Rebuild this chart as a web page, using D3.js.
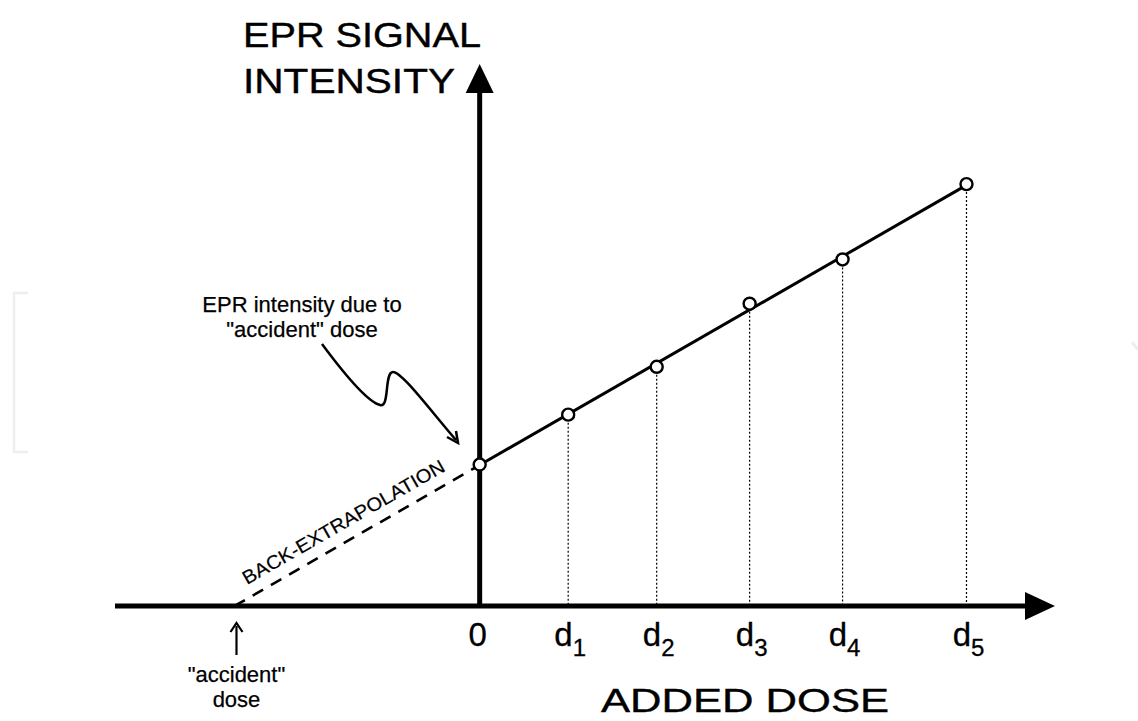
<!DOCTYPE html>
<html><head><meta charset="utf-8">
<script src="https://cdn.jsdelivr.net/npm/d3@7"></script>
<style>body{margin:0;background:#fff}svg{display:block}text{font-family:"Liberation Sans",Arial,sans-serif;fill:#000}</style>
</head><body>
<script>
// ---- data ----
const doseLabels = ["0", "d", "d", "d", "d", "d"];
const doseSubs = ["", "1", "2", "3", "4", "5"];
const doses = [0, 1, 2, 3.05, 4.1, 5.5];
const intensities = [2.78, 3.76, 4.70, 5.94, 6.81, 8.29];
const accidentDose = -2.77;
const fitIntercept = 2.77;
const fitSlope = 1.0;
const xDomain = [-4.12, 6.5];
const yDomain = [0, 10.65];

const W = 1138, H = 721;
const svg = d3.select("body").append("svg").attr("width", W).attr("height", H);

const x = d3.scaleLinear().domain(xDomain).range([115, 1055]);
const y = d3.scaleLinear().domain(yDomain).range([606, 64]);

// faint watermark frame fragments
svg.append("path").attr("d", "M28,293 L14,293 L14,452 L28,452")
  .attr("fill", "none").attr("stroke", "#eeeeee").attr("stroke-width", 2.5);
svg.append("path").attr("d", "M1132,342 L1138,350")
  .attr("fill", "none").attr("stroke", "#eeeeee").attr("stroke-width", 3);

// dotted verticals
svg.selectAll("line.drop").data(doses.slice(1)).enter().append("line")
  .attr("x1", d => x(d)).attr("x2", d => x(d))
  .attr("y1", (d, i) => y(intensities[i + 1])).attr("y2", y(0))
  .attr("stroke", "#000").attr("stroke-width", 1.2).attr("stroke-dasharray", "2,2");

// back extrapolation dashed
svg.append("line")
  .attr("x1", x(accidentDose)).attr("y1", y(0))
  .attr("x2", x(0)).attr("y2", y(fitIntercept))
  .attr("stroke", "#000").attr("stroke-width", 2.6).attr("stroke-dasharray", "12,9");

// fit line
const dMax = doses[doses.length - 1];
svg.append("line")
  .attr("x1", x(0)).attr("y1", y(fitIntercept))
  .attr("x2", x(dMax)).attr("y2", y(fitIntercept + fitSlope * dMax))
  .attr("stroke", "#000").attr("stroke-width", 3);

// axes
const axW = 5;
svg.append("line").attr("x1", x(xDomain[0])).attr("x2", 1028).attr("y1", y(0)).attr("y2", y(0))
  .attr("stroke", "#000").attr("stroke-width", axW);
svg.append("path").attr("d", `M${x(xDomain[1])},${y(0)} L1025,${y(0) - 14} L1025,${y(0) + 14} Z`).attr("fill", "#000");
svg.append("line").attr("x1", x(0)).attr("x2", x(0)).attr("y1", y(0) + 2).attr("y2", 90)
  .attr("stroke", "#000").attr("stroke-width", axW);
svg.append("path").attr("d", `M${x(0)},${y(yDomain[1])} L${x(0) - 14},93 L${x(0) + 14},93 Z`).attr("fill", "#000");

// points
svg.selectAll("circle.pt").data(doses).enter().append("circle")
  .attr("cx", d => x(d)).attr("cy", (d, i) => y(intensities[i]))
  .attr("r", 6).attr("fill", "#fff").attr("stroke", "#000").attr("stroke-width", 2.4);

// tick labels
doses.forEach((d, i) => {
  const t = svg.append("text").attr("x", x(d) + (i ? 2 : -2)).attr("y", 646)
    .attr("text-anchor", "middle").attr("font-size", 33)
    .attr("stroke", "#000").attr("stroke-width", 0.3);
  t.append("tspan").text(doseLabels[i]);
  if (doseSubs[i]) t.append("tspan").attr("font-size", 24).attr("dy", 10).text(doseSubs[i]);
});

// titles
function stretched(txt, xx, yy, size, len) {
  svg.append("text").attr("x", xx).attr("y", yy).attr("font-size", size)
    .attr("textLength", len).attr("lengthAdjust", "spacingAndGlyphs")
    .attr("stroke", "#000").attr("stroke-width", 0.4).text(txt);
}
stretched("EPR SIGNAL", 243, 47, 35, 238);
stretched("INTENSITY", 243, 93, 35, 212);
stretched("ADDED DOSE", 601, 712, 34, 288);

// annotation
svg.append("text").attr("x", 302).attr("y", 312).attr("text-anchor", "middle").attr("font-size", 22)
  .attr("stroke", "#000").attr("stroke-width", 0.25).text("EPR intensity due to");
svg.append("text").attr("x", 302).attr("y", 337).attr("text-anchor", "middle").attr("font-size", 22)
  .attr("stroke", "#000").attr("stroke-width", 0.25).text("\"accident\" dose");
svg.append("path")
  .attr("d", "M322,344 C345,375 368,402 380,405 C390,408 384,372 393,372 C402,372 430,410 456,440")
  .attr("fill", "none").attr("stroke", "#000").attr("stroke-width", 2.5);
svg.append("path").attr("d", "M447,437 L458,443 L456,431")
  .attr("fill", "none").attr("stroke", "#000").attr("stroke-width", 2.5);

// back-extrapolation label
const ang = Math.atan2(y(fitIntercept) - y(0), x(0) - x(accidentDose)) * 180 / Math.PI;
svg.append("text").attr("transform", `translate(247,585) rotate(${ang})`)
  .attr("font-size", 19).attr("textLength", 230).attr("lengthAdjust", "spacingAndGlyphs")
  .attr("stroke", "#000").attr("stroke-width", 0.2)
  .text("BACK-EXTRAPOLATION");

// accident dose marker
const ax = x(accidentDose) + 2;
svg.append("line").attr("x1", ax).attr("x2", ax).attr("y1", 655).attr("y2", 626)
  .attr("stroke", "#000").attr("stroke-width", 2.2);
svg.append("path").attr("d", `M${ax - 6},${632} L${ax},${623} L${ax + 6},${632}`)
  .attr("fill", "none").attr("stroke", "#000").attr("stroke-width", 2.2);
svg.append("text").attr("x", ax).attr("y", 682).attr("text-anchor", "middle").attr("font-size", 22)
  .attr("stroke", "#000").attr("stroke-width", 0.25).text("\"accident\"");
svg.append("text").attr("x", ax).attr("y", 707).attr("text-anchor", "middle").attr("font-size", 22)
  .attr("stroke", "#000").attr("stroke-width", 0.25).text("dose");
</script>
</body></html>
